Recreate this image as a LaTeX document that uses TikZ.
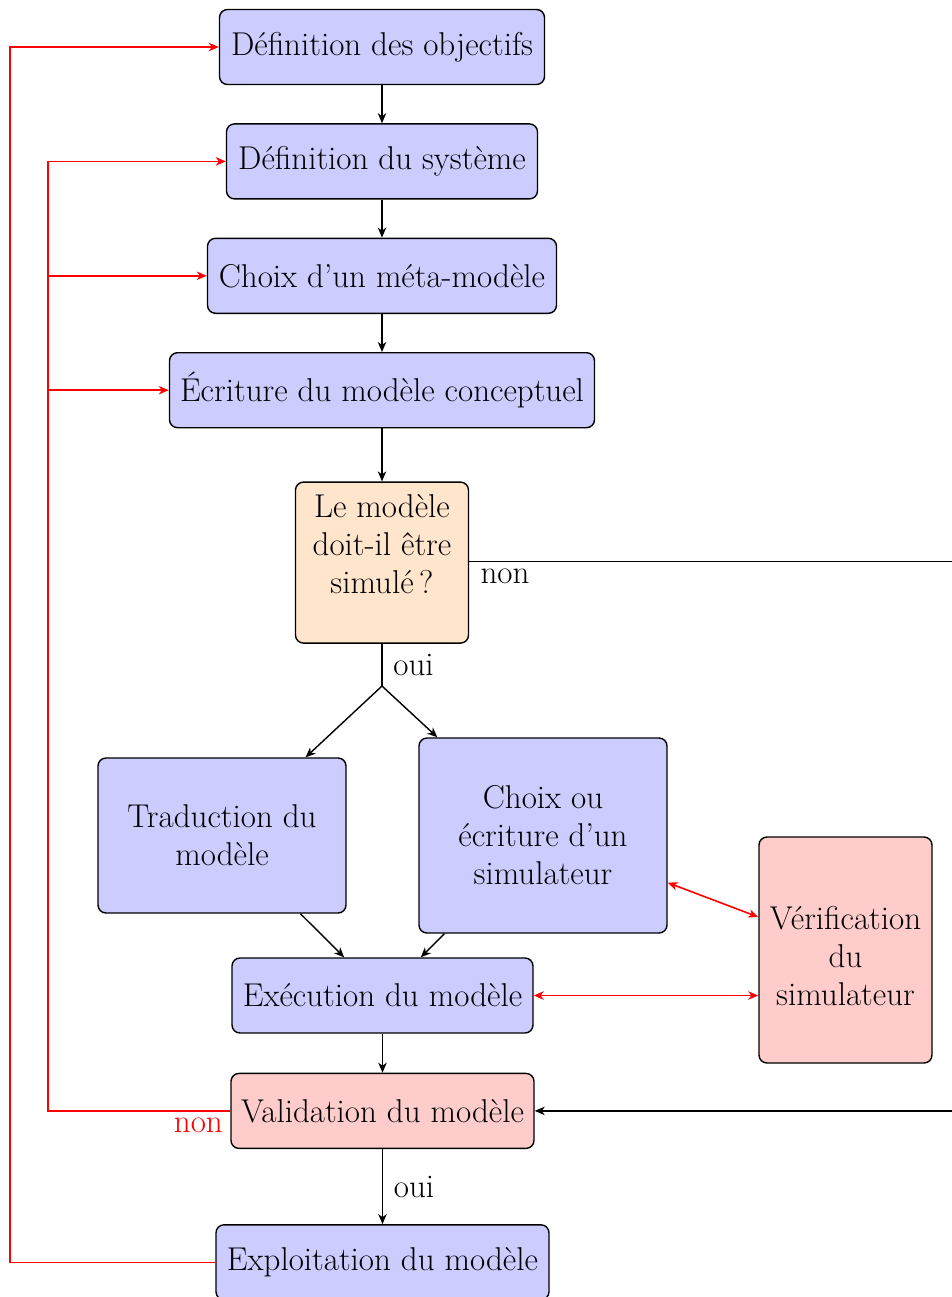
\documentclass[tikz,border=0pt]{standalone}
\usetikzlibrary{positioning,arrows.meta}
\begin{document}
\begin{tikzpicture}
[x=0.5pt, y=-0.5pt, >={Stealth[length=5pt, width=4.2pt, inset=1.5pt]}, font=\fontsize{16.5}{19}\selectfont,
bluenode/.style={rectangle, rounded corners=4pt, draw=black, fill=blue!20, line width=0.7pt, align=center, inner sep=2pt, minimum height=37.5pt},
rednode/.style={bluenode, fill=red!20},
questionnode/.style={bluenode, fill=orange!20},
blackline/.style={black, line width=0.7pt},
redline/.style={red, line width=0.8pt},
]
\useasboundingbox (0,0) rectangle (952,1297);

\node[bluenode, minimum width=162.5pt]	(obj) at (382,47) {Définition des objectifs};
\node[bluenode, minimum width=155.5pt]	(sys) [below=19pt of obj] {Définition du système};
\node[bluenode, minimum width=174.5pt]	(meta) [below=19pt of sys] {Choix d’un méta-modèle};
\node[bluenode, minimum width=212.5pt]	(concept) [below=19pt of meta] {Écriture du modèle conceptuel};
\node[questionnode, minimum width=86.5pt, minimum height=80.5pt]	(question) [below=26.5pt of concept] {Le modèle\\doit-il être\\simulé\,?\\\mbox{}};
\coordinate (split) at (382,686);
\node[bluenode, minimum width=124pt, minimum height=77.5pt]	(trad) at (222,835.5) {Traduction du\\modèle};
\node[bluenode, minimum width=124pt, minimum height=97.5pt]	(simu) at (543,835.5) {Choix ou\\écriture d’un\\simulateur};
\node[rednode, minimum width=86.5pt, minimum height=113pt]	(verif) at (845.5,950) {\rule{0pt}{17.5pt}Vérification\\du\\simulateur};
\node[bluenode, minimum width=150.5pt]	(exec) at (382.5,995.5) {Exécution du modèle};
\node[rednode, minimum width=151.5pt]	(valid) [below=19.5pt of exec] {Validation du modèle};
\node[bluenode, minimum width=166.5pt]	(exploit) [below=37.5pt of valid] {Exploitation du modèle};
\coordinate (nonright) at (990,561.5);
\coordinate (back1) at (48,0);
\coordinate (back2) at (10,0);

\draw[blackline, ->] (obj) -- (sys);
\draw[blackline, ->] (sys) -- (meta);
\draw[blackline, ->] (meta) -- (concept);
\draw[blackline, ->] (concept) -- (question);
\draw[blackline] (question) -- (split) node[midway, right, xshift=2pt] {oui};
\draw[blackline, ->] (split) -- (trad);
\draw[blackline, ->] (split) -- (simu);
\draw[blackline, ->] (trad) -- (exec);
\draw[blackline, ->] (simu) -- (exec);
\draw[blackline, ->] (exec) -- (valid);
\draw[blackline, ->] (valid) -- (exploit) node[midway, right, xshift=2pt] {oui};
\draw[blackline, ->] (question.east |- nonright) -- node[pos=0, below right, xshift=2pt] {non} (nonright) |- (valid);

\draw[redline, <->] (simu) -- (verif);
\draw[redline, <->] (exec) -- (exec -| verif.west);
\draw[redline, ->] (valid) -- node[pos=0, below left] {non} (valid -| back1) |- (sys);
\draw[redline, ->] (back1 |- meta) -- (meta);
\draw[redline, ->] (back1 |- concept) -- (concept);
\draw[redline, ->] (exploit) -- (exploit -| back2) |- (obj);
\end{tikzpicture}
\end{document}
